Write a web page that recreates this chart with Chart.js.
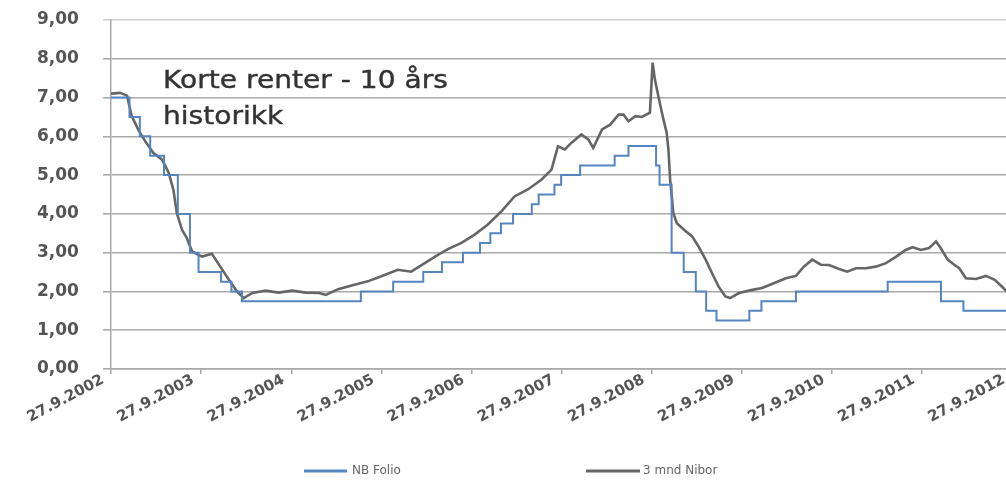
<!DOCTYPE html>
<html>
<head>
<meta charset="utf-8">
<script src="https://cdn.jsdelivr.net/npm/chart.js@4.4.1/dist/chart.umd.min.js"></script>
<style>
  html, body { margin: 0; padding: 0; background: #fff; overflow: hidden; }
  #wrap { width: 1030px; height: 494px; }
</style>
</head>
<body>
<div id="wrap"><canvas id="c" width="1030" height="494"></canvas></div>
<script>
// Norges Bank folio rate: date of each change and the new level (%)
const folioDates = [
  "2002-09-27", "2002-12-11", "2003-01-22", "2003-03-05", "2003-04-30", "2003-06-25",
  "2003-08-13", "2003-09-17", "2003-12-17", "2004-01-28", "2004-03-11", "2005-07-06",
  "2005-11-14", "2006-03-16", "2006-05-31", "2006-08-24", "2006-11-01", "2006-12-13",
  "2007-01-25", "2007-03-15", "2007-05-30", "2007-06-27", "2007-08-30", "2007-09-26",
  "2007-12-12", "2008-04-30", "2008-06-25", "2008-10-15", "2008-10-29", "2008-12-17",
  "2009-02-04", "2009-03-25", "2009-05-06", "2009-06-17", "2009-10-28", "2009-12-16",
  "2010-05-05", "2011-05-12", "2011-12-14", "2012-03-14", "2012-09-27"
];
const folioValues = [
  7.00, 6.50, 6.00, 5.50, 5.00, 4.00,
  3.00, 2.50, 2.25, 2.00, 1.75, 2.00,
  2.25, 2.50, 2.75, 3.00, 3.25, 3.50,
  3.75, 4.00, 4.25, 4.50, 4.75, 5.00,
  5.25, 5.50, 5.75, 5.25, 4.75, 3.00,
  2.50, 2.00, 1.50, 1.25, 1.50, 1.75,
  2.00, 2.25, 1.75, 1.50, 1.50
];

// 3-month NIBOR (%)
const niborDates = [
  "2002-09-27", "2002-11-03", "2002-12-01", "2002-12-20", "2003-01-15", "2003-02-13",
  "2003-03-18", "2003-04-22", "2003-05-19", "2003-06-07", "2003-06-21", "2003-07-12",
  "2003-07-31", "2003-08-22", "2003-10-01", "2003-11-10", "2003-12-14", "2004-01-18",
  "2004-02-20", "2004-03-18", "2004-04-22", "2004-06-14", "2004-08-06", "2004-10-01",
  "2004-11-24", "2005-01-18", "2005-02-14", "2005-04-05", "2005-06-10", "2005-08-03",
  "2005-09-27", "2005-12-03", "2006-01-26", "2006-03-22", "2006-05-16", "2006-06-24",
  "2006-08-18", "2006-10-09", "2006-12-02", "2007-01-26", "2007-03-21", "2007-05-14",
  "2007-07-08", "2007-08-18", "2007-09-13", "2007-10-11", "2007-11-06", "2007-12-17",
  "2008-01-14", "2008-02-03", "2008-03-10", "2008-04-12", "2008-05-16", "2008-06-05",
  "2008-06-25", "2008-07-23", "2008-08-18", "2008-09-20", "2008-10-01", "2008-10-10",
  "2008-10-24", "2008-11-14", "2008-11-27", "2008-12-04", "2008-12-11", "2008-12-24",
  "2009-01-07", "2009-02-05", "2009-03-10", "2009-04-05", "2009-05-04", "2009-05-30",
  "2009-06-25", "2009-07-23", "2009-08-11", "2009-09-16", "2009-11-09", "2009-12-19",
  "2010-01-30", "2010-03-25", "2010-05-05", "2010-06-06", "2010-07-10", "2010-08-14",
  "2010-09-16", "2010-10-27", "2010-11-29", "2011-01-03", "2011-02-13", "2011-03-25",
  "2011-05-05", "2011-06-14", "2011-07-24", "2011-08-21", "2011-09-24", "2011-10-27",
  "2011-11-24", "2011-12-13", "2012-01-10", "2012-02-06", "2012-02-26", "2012-03-24",
  "2012-05-04", "2012-06-13", "2012-07-19", "2012-08-23", "2012-09-13"
];
const niborValues = [
  7.10, 7.12, 7.05, 6.52, 6.18, 5.87,
  5.57, 5.40, 5.06, 4.62, 4.02, 3.59,
  3.38, 3.03, 2.90, 2.97, 2.64, 2.30,
  2.00, 1.83, 1.96, 2.02, 1.97, 2.02,
  1.97, 1.96, 1.91, 2.06, 2.17, 2.26,
  2.39, 2.56, 2.51, 2.73, 2.95, 3.09,
  3.25, 3.46, 3.72, 4.06, 4.45, 4.63,
  4.88, 5.14, 5.74, 5.66, 5.83, 6.05,
  5.92, 5.70, 6.18, 6.30, 6.56, 6.56,
  6.39, 6.52, 6.50, 6.61, 7.90, 7.47,
  7.04, 6.43, 6.09, 5.66, 4.88, 4.02,
  3.76, 3.59, 3.42, 3.16, 2.82, 2.47,
  2.13, 1.87, 1.83, 1.96, 2.04, 2.09,
  2.20, 2.34, 2.40, 2.64, 2.82, 2.69,
  2.68, 2.58, 2.51, 2.60, 2.60, 2.64,
  2.73, 2.89, 3.07, 3.14, 3.07, 3.12,
  3.29, 3.12, 2.82, 2.69, 2.60, 2.34,
  2.32, 2.40, 2.30, 2.09, 1.94
];

// x-axis tick dates and their labels
const xTickDates = [
  "2002-09-27", "2003-09-27", "2004-09-27", "2005-09-27", "2006-09-27", "2007-09-27",
  "2008-09-27", "2009-09-27", "2010-09-27", "2011-09-27", "2012-09-27"
];
const xTickLabels = [
  "27.9.2002", "27.9.2003", "27.9.2004", "27.9.2005", "27.9.2006", "27.9.2007",
  "27.9.2008", "27.9.2009", "27.9.2010", "27.9.2011", "27.9.2012"
];

const seriesNames = ["NB Folio", "3 mnd Nibor"];
const titleLines = ["Korte renter - 10 års", "historikk"];

const toMs = d => Date.parse(d + "T00:00:00Z");
const points = (dates, vals) => dates.map((d, i) => ({ x: toMs(d), y: vals[i] }));
const xTickValues = xTickDates.map(toMs);

// Text block drawn inside the plot
const titlePlugin = {
  id: 'innerTitle',
  afterDraw(chart) {
    const ctx = chart.ctx;
    ctx.save();
    ctx.fillStyle = '#333';
    ctx.strokeStyle = '#333';
    ctx.lineWidth = 0.4;
    ctx.font = '24px "DejaVu Sans"';
    ctx.textBaseline = 'alphabetic';
    titleLines.forEach((t, i) => {
      ctx.save();
      ctx.translate(163, 88 + i * 36);
      ctx.scale(1.17, 1);
      ctx.fillText(t, 0, 0);
      ctx.strokeText(t, 0, 0);
      ctx.restore();
    });
    ctx.restore();
  }
};

// Legend row under the axis
const legendPlugin = {
  id: 'bottomLegend',
  afterDraw(chart) {
    const ctx = chart.ctx;
    const slots = [{ x0: 304, x1: 347, tx: 352 }, { x0: 586, x1: 640, tx: 643 }];
    const y = 471;
    ctx.save();
    ctx.font = '12px "DejaVu Sans"';
    ctx.textBaseline = 'middle';
    chart.data.datasets.forEach((ds, i) => {
      const s = slots[i];
      ctx.strokeStyle = ds.borderColor;
      ctx.lineWidth = 3;
      ctx.beginPath();
      ctx.moveTo(s.x0, y);
      ctx.lineTo(s.x1, y);
      ctx.stroke();
      ctx.fillStyle = '#666';
      ctx.fillText(ds.label, s.tx, y);
    });
    ctx.restore();
  }
};

new Chart(document.getElementById('c'), {
  type: 'line',
  data: {
    datasets: [
      {
        label: seriesNames[0],
        data: points(folioDates, folioValues),
        stepped: true,
        borderColor: '#5585c0',
        borderWidth: 2,
        pointRadius: 0,
        fill: false
      },
      {
        label: seriesNames[1],
        data: points(niborDates, niborValues),
        borderColor: '#666666',
        borderWidth: 2.6,
        pointRadius: 0,
        tension: 0,
        fill: false
      }
    ]
  },
  options: {
    responsive: false,
    animation: false,
    layout: { padding: { top: 20, right: 18, bottom: 65, left: 37 } },
    plugins: {
      legend: { display: false },
      tooltip: { enabled: false }
    },
    scales: {
      x: {
        type: 'linear',
        min: xTickValues[0],
        max: xTickValues[xTickValues.length - 1],
        afterBuildTicks(scale) {
          scale.ticks = xTickValues.map(v => ({ value: v }));
        },
        afterFit(scale) { scale.height = 60; },
        grid: {
          drawOnChartArea: false,
          drawTicks: true,
          tickLength: 5,
          color: '#a8a8a8',
          lineWidth: 1.5
        },
        border: { display: true, color: '#a8a8a8', width: 1.5 },
        ticks: {
          autoSkip: false,
          minRotation: 28,
          maxRotation: 28,
          padding: -3,
          labelOffset: -8,
          color: '#555',
          font: { family: '"DejaVu Sans"', size: 15, weight: 'bold' },
          callback: (v, i) => xTickLabels[i]
        }
      },
      y: {
        min: 0,
        max: 9,
        afterFit(scale) { scale.width = 74; },
        grid: {
          color: c => (c.tick && c.tick.value === 9 ? '#d2d2d2' : '#aaaaaa'),
          lineWidth: 1.6,
          drawTicks: true,
          tickLength: 8
        },
        border: { display: true, color: '#a8a8a8', width: 1.5 },
        ticks: {
          stepSize: 1,
          padding: 0,
          crossAlign: 'far',
          color: '#555',
          font: { family: '"DejaVu Sans"', size: 17, weight: 'bold' },
          callback: v => v.toFixed(2).replace('.', ',')
        }
      }
    }
  },
  plugins: [titlePlugin, legendPlugin]
});
</script>
</body>
</html>
